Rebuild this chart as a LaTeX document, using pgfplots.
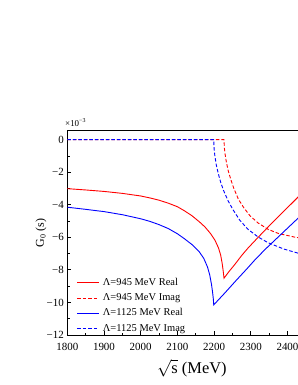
\documentclass[border=0pt]{standalone}
\usepackage{fontspec}
\setmainfont{Liberation Serif}
\usepackage{pgfplots}
\pgfplotsset{compat=1.18}
\definecolor{cred}{RGB}{255,0,0}
\definecolor{cblue}{RGB}{0,0,255}
\begin{document}
\begin{tikzpicture}
\path[use as bounding box] (-67.3bp,-50bp) rectangle (230.7bp,335bp);
\clip (-67.3bp,-50bp) rectangle (230.7bp,335bp);
\begin{axis}[
  at={(0,0)}, anchor=south west,
  scale only axis, width=256.9bp, height=204.3bp,
  xmin=1800, xmax=2500, ymin=-12, ymax=0.55,
  clip mode=individual,
  axis line style={line width=0.9bp},
  xtick={1800,1900,2000,2100,2200,2300,2400,2500},
  xticklabels={1800,1900,2000,2100,2200,2300,2400,{}},
  ytick={-12,-10,-8,-6,-4,-2,0},
  yticklabels={−12,−10,−8,−6,−4,−2,0},
  minor x tick num=1, minor y tick num=1,
  tick align=inside, tick pos=left,
  major tick length=4bp, minor tick length=2.2bp,
  every tick/.style={black, line width=0.8bp},
  tick label style={font=\fontsize{11}{13}\selectfont},
  xticklabel style={inner sep=0pt, yshift=-8.2bp},
  every axis y label/.style={at={(axis description cs:-0.1024,0.5)}, anchor=center, rotate=90},
  ylabel={G\textsubscript{0} (s)},
  ylabel style={font=\fontsize{12}{14}\selectfont},
  every axis x label/.style={at={(axis description cs:0.485,0)}, anchor=center, yshift=-33.5bp, inner sep=0pt},
  xlabel={$\sqrt{\hbox{s}}$ (MeV)},
  xlabel style={font=\fontsize{16.5}{19}\selectfont},
  legend image code/.code={\draw[#1] (0bp,0bp) -- (21.6bp,0bp);},
  legend cell align=left,
  legend style={draw=none, fill=none, at={(axis description cs:0.0366,0.289)}, anchor=north west,
    font=\fontsize{10.5}{12}\selectfont, row sep=2.1bp, column sep=2bp, inner sep=0pt,
    nodes={inner sep=1.5bp, text height=7.7bp, text depth=2.5bp}},
  every axis plot/.append style={line width=0.9bp},
]
\addplot[cred] coordinates {(1800,-3.01)(1850,-3.09)(1900,-3.18)(1950,-3.30)(2000,-3.46)(2025,-3.58)(2050,-3.72)(2075,-3.90)(2100,-4.12)(2120,-4.38)(2140,-4.68)(2160,-5.05)(2175,-5.36)(2190,-5.76)(2202,-6.16)(2212,-6.65)(2218,-7.10)(2222,-7.60)(2225,-8.10)(2227,-8.51)(2240,-8.12)(2257,-7.65)(2275,-7.12)(2292,-6.67)(2320,-6.00)(2350,-5.30)(2380,-4.62)(2410,-3.95)(2430,-3.50)(2460,-2.85)};
\addlegendentry{Λ=945 MeV Real}
\addplot[cred, dash pattern=on 3.5bp off 2bp] coordinates {(1800,0)(2227,0)(2228,-0.50)(2230,-0.90)(2234,-1.45)(2239,-1.95)(2246,-2.48)(2253,-2.95)(2266,-3.65)(2280,-4.15)(2298,-4.68)(2320,-5.12)(2348,-5.52)(2375,-5.76)(2418,-5.98)(2458,-6.12)};
\addlegendentry{Λ=945 MeV Imag}
\addplot[cblue] coordinates {(1800,-4.15)(1850,-4.28)(1900,-4.42)(1950,-4.61)(2000,-4.86)(2025,-5.02)(2050,-5.22)(2075,-5.46)(2100,-5.78)(2120,-6.10)(2140,-6.45)(2160,-6.90)(2172,-7.30)(2182,-7.82)(2188,-8.30)(2193,-8.90)(2196,-9.40)(2198,-9.80)(2199,-10.15)(2230,-9.40)(2260,-8.65)(2290,-7.92)(2311,-7.39)(2340,-6.72)(2370,-6.08)(2400,-5.44)(2430,-4.80)(2460,-4.17)};
\addlegendentry{Λ=1125 MeV Real}
\addplot[cblue, dash pattern=on 3.5bp off 2bp] coordinates {(1800,0)(2199,0)(2200,-0.55)(2202,-0.98)(2206,-1.55)(2211,-2.05)(2218,-2.62)(2225,-3.08)(2238,-3.75)(2252,-4.32)(2270,-4.95)(2292,-5.50)(2320,-5.98)(2347,-6.33)(2390,-6.72)(2430,-6.98)(2460,-7.12)};
\addlegendentry{Λ=1125 MeV Imag}
\node[anchor=south west, inner sep=0pt, xshift=-2.3bp, yshift=4.2bp, font=\fontsize{9}{10}\selectfont] at (axis description cs:0,1) {×10\textsuperscript{−3}};
\end{axis}
\end{tikzpicture}
\end{document}
